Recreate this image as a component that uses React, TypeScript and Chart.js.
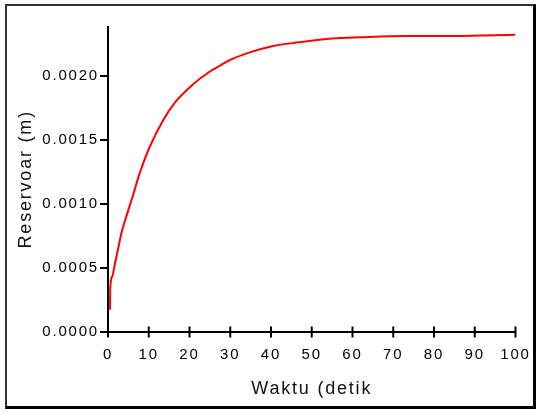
import React, { useEffect, useRef } from "react";
import { Chart, registerables } from "chart.js";

Chart.register(...registerables);

const timeSeconds = [0.5, 0.55, 1.05, 1.7, 2.5, 3.3, 4.5, 5.8, 7.8, 10.2, 13.5, 16.7, 20.8, 24.9, 27.6, 29.8, 34.6, 40.3, 46.8, 55, 62, 73, 85, 100];
const reservoirLevel = [0.00017, 0.00034, 0.00043, 0.00053, 0.00065, 0.00077, 0.0009, 0.00103, 0.00124, 0.00144, 0.00165, 0.0018, 0.00193, 0.00203, 0.00208, 0.00212, 0.00218, 0.00223, 0.00226, 0.00229, 0.0023, 0.00231, 0.00231, 0.00232];

const xTitle = "Waktu (detik";
const yTitle = "Reservoar (m)";

const FONT = "'Liberation Sans', Arial, sans-serif";

const letterSpacingPlugin = {
  id: "letterSpacing",
  beforeDraw(chart: any) {
    (chart.ctx as any).letterSpacing = "1.8px";
  },
};

const crossTicksPlugin = {
  id: "crossTicks",
  afterDraw(chart: any) {
    const ctx = chart.ctx;
    const xs = chart.scales.x;
    const y0 = chart.chartArea.bottom;
    ctx.save();
    ctx.strokeStyle = "#000";
    ctx.lineWidth = 2;
    xs.ticks.forEach((t: any) => {
      const px = xs.getPixelForValue(t.value);
      ctx.beginPath();
      ctx.moveTo(px, y0 - 5);
      ctx.lineTo(px, y0 + 6);
      ctx.stroke();
    });
    ctx.restore();
  },
};

export default function App() {
  const ref = useRef<HTMLCanvasElement>(null);

  useEffect(() => {
    document.body.style.margin = "0";
    const points = timeSeconds.map((t, i) => ({ x: t, y: reservoirLevel[i] }));
    const chart = new Chart(ref.current!, {
      type: "line",
      data: {
        datasets: [
          {
            data: points,
            borderColor: "#ff0000",
            borderWidth: 2,
            pointRadius: 0,
            tension: 0.3,
            cubicInterpolationMode: "monotone",
            fill: false,
          },
        ],
      },
      options: {
        animation: false,
        responsive: false,
        maintainAspectRatio: false,
        layout: { padding: { top: 27, right: 24, left: 0, bottom: 0 } },
        plugins: { legend: { display: false }, tooltip: { enabled: false } },
        scales: {
          x: {
            type: "linear",
            min: 0,
            max: 100,
            afterFit(scale: any) {
              scale.height = 81.5;
            },
            ticks: {
              stepSize: 10,
              color: "#000",
              font: { family: FONT, size: 15 },
              padding: 14,
              maxRotation: 0,
              autoSkip: false,
            },
            grid: { drawOnChartArea: false, drawTicks: false },
            border: { display: true, color: "#000", width: 2 },
            title: {
              display: true,
              text: xTitle,
              color: "#111",
              font: { family: FONT, size: 18 },
              padding: { top: 0, bottom: 13 },
            },
          },
          y: {
            type: "linear",
            min: 0,
            max: 0.00238,
            afterFit(scale: any) {
              scale.width = 108;
            },
            ticks: {
              stepSize: 0.0005,
              includeBounds: false,
              color: "#000",
              font: { family: FONT, size: 15 },
              padding: 1,
              callback: (v: any) => Number(v).toFixed(4),
            },
            grid: { drawOnChartArea: false, tickLength: 8, color: "#000", lineWidth: 2 },
            border: { display: true, color: "#000", width: 2 },
            title: {
              display: true,
              text: yTitle,
              color: "#111",
              font: { family: FONT, size: 18 },
              padding: { top: 15, bottom: 0 },
            },
          },
        },
      },
      plugins: [letterSpacingPlugin, crossTicksPlugin],
    } as any);
    return () => chart.destroy();
  }, []);

  return (
    <div style={{ position: "relative", width: 542, height: 413, background: "#fff" }}>
      <div
        style={{
          position: "absolute",
          left: 5,
          top: 4,
          width: 531,
          height: 405,
          boxSizing: "border-box",
          borderLeft: "2px solid #333",
          borderTop: "2px solid #333",
          borderRight: "3px solid #000",
          borderBottom: "3px solid #000",
        }}
      />
      <canvas
        ref={ref}
        width={542}
        height={413}
        style={{ position: "absolute", left: 0, top: 0, width: 542, height: 413 }}
      />
    </div>
  );
}
